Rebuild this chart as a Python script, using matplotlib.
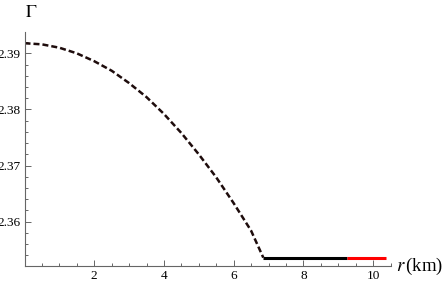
import matplotlib
matplotlib.use('Agg')
import matplotlib.pyplot as plt
from matplotlib.ticker import MultipleLocator

# values
r_core = [0.0, 0.5, 1.0, 1.5, 2.0, 2.5, 3.0, 3.5, 4.0, 4.5, 5.0, 5.5, 6.0, 6.5, 6.85]
gamma_core = [2.3918, 2.3916, 2.3910, 2.3900, 2.3886, 2.3869, 2.3847, 2.3822,
              2.3792, 2.3758, 2.3720, 2.3679, 2.3633, 2.3584, 2.3536]
r_black = [6.85, 9.25]
gamma_black = [2.3536, 2.3536]
r_red = [9.25, 10.37]
gamma_red = [2.3536, 2.3536]

plt.rcParams['font.family'] = ['Liberation Serif', 'DejaVu Serif']
plt.rcParams['mathtext.fontset'] = 'stix'

fig = plt.figure(figsize=(4.47, 2.84), dpi=100)
ax = fig.add_axes([24.5 / 447, 18 / 284, 366 / 447, 234 / 284])

ax.plot(r_core, gamma_core, color='#1e0c0c', lw=1.8, dashes=(2.4, 1.2))
ax.plot(r_black, gamma_black, color='black', lw=2.2, solid_capstyle='butt')
ax.plot(r_red, gamma_red, color='#ff0000', lw=2.2, solid_capstyle='butt')

ax.set_xlim(0, 10.5)
ax.set_ylim(2.3521, 2.3938)

ax.spines['top'].set_visible(False)
ax.spines['right'].set_visible(False)
for s in ['left', 'bottom']:
    ax.spines[s].set_color('#666666')
    ax.spines[s].set_linewidth(0.8)

ax.xaxis.set_minor_locator(MultipleLocator(0.5))
ax.yaxis.set_minor_locator(MultipleLocator(0.002))
ax.set_xticks([2, 4, 6, 8, 10])
ax.set_xticklabels(['2', '4', '6', '8', '10'])
ax.set_yticks([2.36, 2.37, 2.38, 2.39])
ax.set_yticklabels(['2.36', '2.37', '2.38', '2.39'])
ax.tick_params(which='both', direction='in', color='#666666', width=0.7, labelsize=9.5, pad=3)
ax.tick_params(which='major', length=4)
ax.tick_params(which='minor', length=2.2)

ax.text(0.2, 2.3972, r'$\Gamma$', fontsize=13, ha='center', va='center', clip_on=False)
ax.text(10.65, 2.3521, r'$r\,$(km)', fontsize=13.5, ha='left', va='center', clip_on=False)

fig.savefig('out.png', dpi=100)
